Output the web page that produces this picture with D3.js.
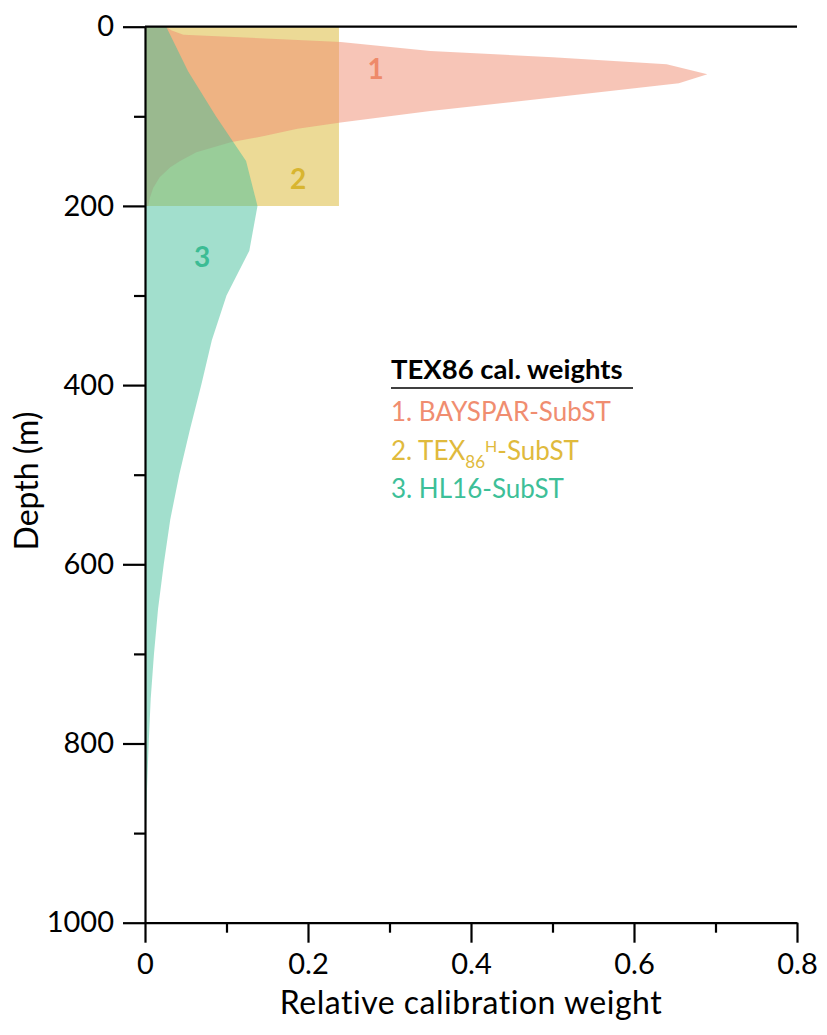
<!DOCTYPE html>
<html>
<head>
<meta charset="utf-8">
<script src="https://cdn.jsdelivr.net/npm/d3@7"></script>
<style>
  body { margin: 0; background: #fff; }
  svg { display: block; font-family: Lato, "Open Sans", sans-serif; }
</style>
</head>
<body>
<svg id="chart" width="827" height="1035"></svg>
<script>
// depth (m) and relative calibration weight
const baysparDepth = [0, 4, 9, 17, 27, 34, 42, 53, 63, 79, 94, 107, 114, 122, 129, 140, 150, 157, 168, 180, 191, 200];
const baysparWeight = [0.026, 0.032, 0.047, 0.24, 0.35, 0.5, 0.64, 0.69, 0.655, 0.5, 0.35, 0.24, 0.187, 0.146, 0.105, 0.063, 0.043, 0.031, 0.018, 0.01, 0.006, 0.004];

const tex86hDepth = [0, 200];
const tex86hWeight = [0.238, 0.238];

const hl16Depth = [0, 50, 100, 150, 200, 250, 300, 350, 400, 450, 500, 550, 600, 650, 700, 750, 800, 850, 900, 950, 1000];
const hl16Weight = [0.026, 0.053, 0.087, 0.124, 0.138, 0.128, 0.1, 0.082, 0.069, 0.055, 0.042, 0.031, 0.023, 0.016, 0.011, 0.007, 0.0045, 0.0025, 0.001, 0.0003, 0];

const xTicks = [0, 0.2, 0.4, 0.6, 0.8];
const xMinorTicks = [0.1, 0.3, 0.5, 0.7];
const yTicks = [0, 200, 400, 600, 800, 1000];
const yMinorTicks = [100, 300, 500, 700, 900];

const legendTitle = "TEX86 cal. weights";

const svg = d3.select("#chart");

const x = d3.scaleLinear().domain([0, 0.8]).range([145, 797]);
const y = d3.scaleLinear().domain([0, 1000]).range([26.7, 922.7]);

const series = [
  { name: "tex86h", depth: tex86hDepth, weight: tex86hWeight, fill: "#d9b52d", label: "2", lx: 0.188, ly: 170, lcolor: "#d8b530" },
  { name: "bayspar", depth: baysparDepth, weight: baysparWeight, fill: "#ef8b6f", label: "1", lx: 0.283, ly: 47, lcolor: "#ee8a6a" },
  { name: "hl16", depth: hl16Depth, weight: hl16Weight, fill: "#46bf9b", label: "3", lx: 0.07, ly: 257, lcolor: "#3cbc94" }
];

const area = d3.area()
    .y(d => y(d[0]))
    .x0(x(0))
    .x1(d => x(d[1]));

svg.append("g")
  .selectAll("path")
  .data(series)
  .join("path")
    .attr("d", s => area(d3.zip(s.depth, s.weight)))
    .attr("fill", s => s.fill)
    .attr("fill-opacity", 0.5);

svg.append("g")
    .attr("font-weight", "bold")
    .attr("font-size", 28)
    .attr("text-anchor", "middle")
  .selectAll("text")
  .data(series)
  .join("text")
    .attr("x", s => x(s.lx))
    .attr("y", s => y(s.ly))
    .attr("dy", "0.36em")
    .attr("fill", s => s.lcolor)
    .text(s => s.label);

// axes
const axisFont = g => g.selectAll("text").attr("font-size", 29).attr("fill", "#000")
    .attr("font-family", "Lato, 'Open Sans', sans-serif");

svg.append("g")
    .attr("transform", `translate(${x(0)},0)`)
    .call(d3.axisLeft(y).tickValues(yTicks).tickFormat(d => String(d))
      .tickSize(22).tickSizeOuter(0).tickPadding(9))
    .call(axisFont);
svg.append("g")
    .attr("transform", `translate(${x(0)},0)`)
    .call(d3.axisLeft(y).tickValues(yMinorTicks).tickFormat("").tickSize(11).tickSizeOuter(0))
    .call(g => g.select(".domain").remove());

svg.append("g")
    .attr("transform", `translate(0,${y(1000)})`)
    .call(d3.axisBottom(x).tickValues(xTicks).tickFormat(d => String(d))
      .tickSize(20).tickSizeOuter(0).tickPadding(11))
    .call(axisFont);
svg.append("g")
    .attr("transform", `translate(0,${y(1000)})`)
    .call(d3.axisBottom(x).tickValues(xMinorTicks).tickFormat("").tickSize(10).tickSizeOuter(0))
    .call(g => g.select(".domain").remove());

svg.selectAll(".domain, .tick line").attr("stroke", "#000").attr("stroke-width", 2.2);

// top line at depth 0
svg.append("line")
    .attr("x1", x(0)).attr("x2", x(0.8))
    .attr("y1", y(0)).attr("y2", y(0))
    .attr("stroke", "#000").attr("stroke-width", 2.2);

svg.append("text")
    .attr("x", (x(0) + x(0.8)) / 2)
    .attr("y", 1014)
    .attr("text-anchor", "middle")
    .attr("font-size", 32)
    .attr("letter-spacing", 0.5)
    .text("Relative calibration weight");

svg.append("text")
    .attr("transform", "translate(38,481) rotate(-90)")
    .attr("text-anchor", "middle")
    .attr("font-size", 32)
    .text("Depth (m)");

// legend
const legend = svg.append("g").attr("transform", "translate(391,0)");
legend.append("text")
    .attr("y", 379)
    .attr("font-weight", "bold")
    .attr("font-size", 27.5)
    .text(legendTitle);
legend.append("line")
    .attr("x1", 0).attr("x2", 242)
    .attr("y1", 388).attr("y2", 388)
    .attr("stroke", "#000").attr("stroke-width", 1.5);

legend.append("text")
    .attr("y", 421).attr("font-size", 26).attr("fill", "#f08d70")
    .text("1. BAYSPAR-SubST");

const t2 = legend.append("text").attr("y", 460).attr("font-size", 26).attr("fill", "#e0ba3c");
t2.append("tspan").text("2. TEX");
t2.append("tspan").attr("font-size", 17).attr("dy", 8).text("86");
t2.append("tspan").attr("font-size", 16).attr("dy", -16).text("H");
t2.append("tspan").attr("dy", 8).text("-SubST");

legend.append("text")
    .attr("y", 498).attr("font-size", 26).attr("fill", "#3dbf98")
    .text("3. HL16-SubST");
</script>
</body>
</html>
